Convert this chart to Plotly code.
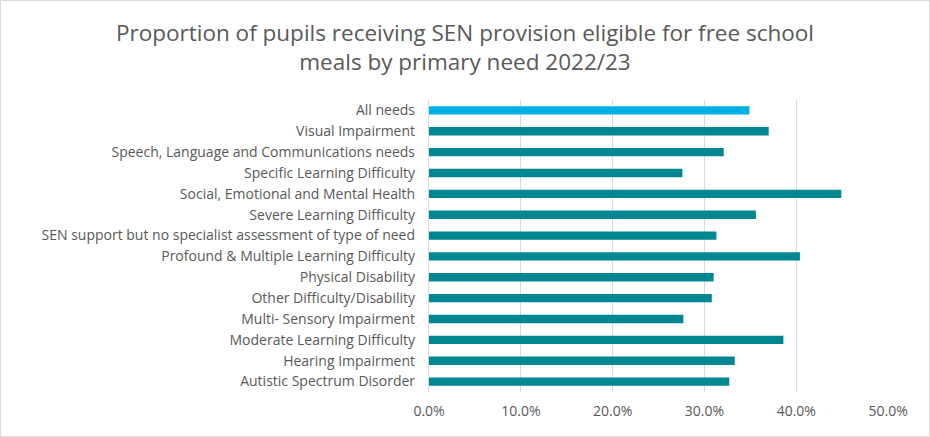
import plotly.graph_objects as go

categories = [
    "All needs",
    "Visual Impairment",
    "Speech, Language and Communications needs",
    "Specific Learning Difficulty",
    "Social, Emotional and Mental Health",
    "Severe Learning Difficulty",
    "SEN support but no specialist assessment of type of need",
    "Profound & Multiple Learning Difficulty",
    "Physical Disability",
    "Other Difficulty/Disability",
    "Multi- Sensory Impairment",
    "Moderate Learning Difficulty",
    "Hearing Impairment",
    "Autistic Spectrum Disorder",
]
values = [0.349, 0.370, 0.321, 0.276, 0.449, 0.356, 0.313, 0.404,
          0.310, 0.308, 0.277, 0.386, 0.333, 0.327]
colors = ["#00B0E6"] + ["#008791"] * (len(categories) - 1)
x_ticks = [0, 0.1, 0.2, 0.3, 0.4, 0.5]

W, H = 930, 437
ml, mr, mt, mb = 429, 41, 100, 45

fig = go.Figure(go.Bar(
    y=categories, x=values, orientation="h",
    marker=dict(color=colors, line=dict(width=0)),
    hoverinfo="x+y",
))

fig.update_layout(
    width=W, height=H,
    margin=dict(l=ml, r=mr, t=mt, b=mb),
    paper_bgcolor="white", plot_bgcolor="white",
    bargap=0.6,
    showlegend=False,
    font=dict(family="Open Sans, sans-serif", color="#595959", size=14),
    title=dict(
        text="Proportion of pupils receiving SEN provision eligible for free school<br>meals by primary need 2022/23",
        x=0.5, xanchor="center", xref="container",
        y=0.906, yanchor="top", yref="container",
        font=dict(size=22.5, color="#595959", family="Open Sans, sans-serif"),
    ),
    xaxis=dict(
        range=[0, 0.501], tickvals=x_ticks, tickformat=".1%",
        showgrid=True, gridcolor="#D9D9D9", gridwidth=1.3,
        zeroline=False, showline=False, ticks="",
        ticklabelstandoff=9,
        tickfont=dict(size=14, color="#595959"),
        fixedrange=True,
    ),
    yaxis=dict(
        autorange="reversed", showgrid=False, zeroline=False,
        showline=True, linecolor="#D9D9D9", linewidth=1.3,
        ticks="", ticklen=0, ticklabelstandoff=10,
        tickfont=dict(size=14, color="#595959"),
        automargin=False,
    ),
)

pw = W - ml - mr
ph = H - mt - mb
fig.add_shape(
    type="rect", xref="paper", yref="paper",
    x0=(-ml + 0.5) / pw, x1=(W - ml - 0.5) / pw,
    y0=(-mb + 0.5) / ph, y1=(H - mb - 0.5) / ph,
    line=dict(color="#D9D9D9", width=1), fillcolor="rgba(0,0,0,0)",
    layer="below",
)

fig.write_html("out.html")
